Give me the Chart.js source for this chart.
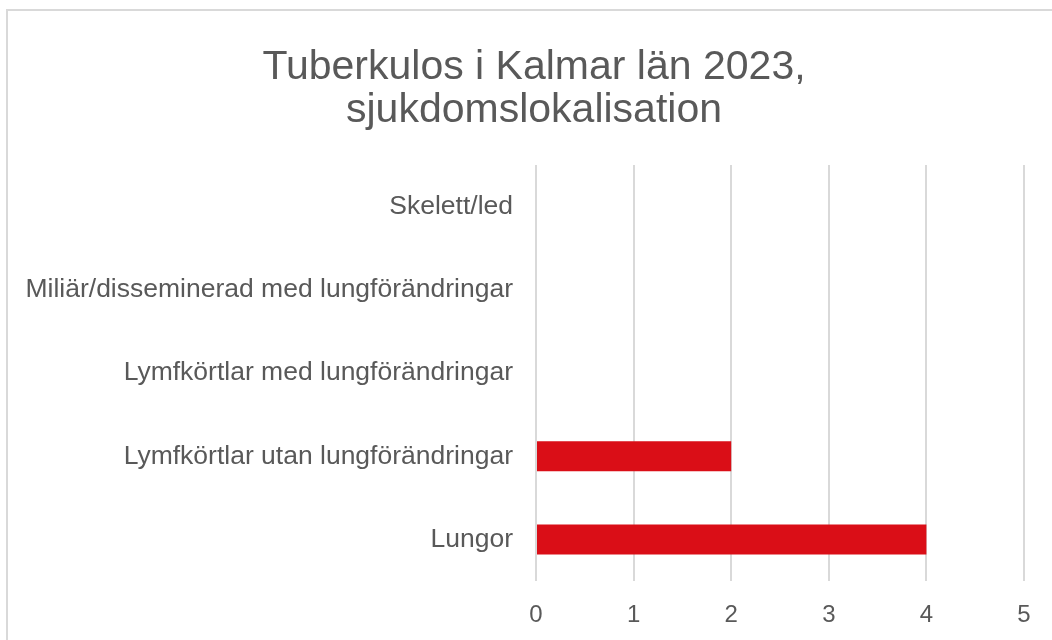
<!DOCTYPE html>
<html>
<head>
<meta charset="utf-8">
<script src="https://cdn.jsdelivr.net/npm/chart.js@4"></script>
<style>
  html, body { margin: 0; padding: 0; background: #fff; overflow: hidden; }
  #frame { position: absolute; left: 6px; top: 9px; width: 1100px; height: 700px; border: 2px solid #d9d9d9; }
  #wrap { position: absolute; left: 0; top: 0; width: 1052px; height: 640px; }
</style>
</head>
<body>
<div id="frame"></div>
<div id="wrap"><canvas id="c"></canvas></div>
<script>
// sjukdomslokalisation, uppifrån och ned
const categories = [
  'Skelett/led',
  'Miliär/disseminerad med lungförändringar',
  'Lymfkörtlar med lungförändringar',
  'Lymfkörtlar utan lungförändringar',
  'Lungor'
];
const cases = [0, 0, 0, 2, 4];
const titleLines = ['Tuberkulos i Kalmar län 2023,', 'sjukdomslokalisation'];

const FONT = '"Liberation Sans", Arial, sans-serif';
const TEXT = '#595959';

// titeln centreras över hela diagramrutan (som i Excel), inte bara canvasens mitt
const excelTitle = {
  id: 'excelTitle',
  afterDraw(chart) {
    const ctx = chart.ctx;
    ctx.save();
    ctx.fillStyle = TEXT;
    ctx.font = '41px ' + FONT;
    ctx.textAlign = 'center';
    ctx.textBaseline = 'middle';
    titleLines.forEach((t, i) => ctx.fillText(t, 534, 68 + i * 43));
    ctx.restore();
  }
};

new Chart(document.getElementById('c'), {
  type: 'bar',
  data: {
    labels: categories,
    datasets: [{
      data: cases,
      backgroundColor: '#da0e17',
      borderWidth: 0,
      categoryPercentage: 1,
      barPercentage: 0.36
    }]
  },
  options: {
    indexAxis: 'y',
    responsive: true,
    maintainAspectRatio: false,
    animation: false,
    layout: { padding: { left: 0, right: 28, top: 165, bottom: 0 } },
    plugins: {
      legend: { display: false },
      tooltip: { enabled: false },
      title: { display: false }
    },
    scales: {
      x: {
        min: 0,
        max: 5,
        ticks: { stepSize: 1, color: TEXT, padding: 20, font: { family: FONT, size: 24 } },
        grid: { color: '#d9d9d9', lineWidth: 2, drawTicks: false },
        border: { display: false },
        afterFit(s) { s.height = 59; }
      },
      y: {
        ticks: { color: TEXT, padding: 23, font: { family: FONT, size: 26.5 } },
        grid: { display: false, drawTicks: false },
        border: { display: false },
        afterFit(s) { s.width = 536; }
      }
    }
  },
  plugins: [excelTitle]
});
</script>
</body>
</html>
